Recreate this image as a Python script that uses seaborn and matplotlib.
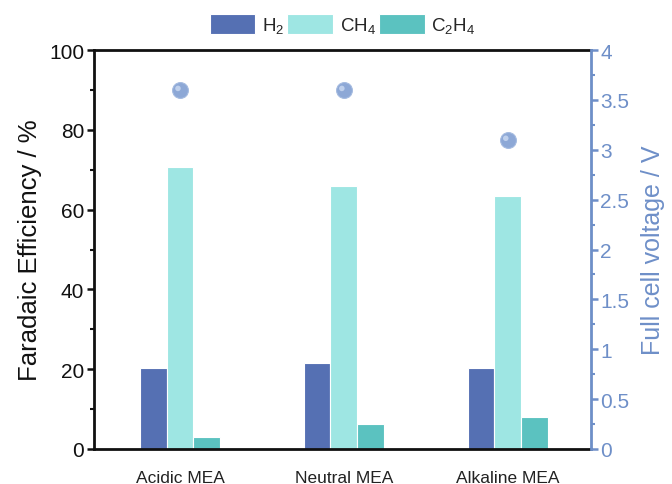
import matplotlib
matplotlib.use("Agg")
import matplotlib.pyplot as plt
import matplotlib.transforms as mtransforms
import seaborn as sns
import pandas as pd
from matplotlib.ticker import MultipleLocator

categories = ["Acidic MEA", "Neutral MEA", "Alkaline MEA"]
products = ["H$_2$", "CH$_4$", "C$_2$H$_4$"]
fe_h2 = [20.2, 21.6, 20.2]
fe_ch4 = [70.8, 65.8, 63.5]
fe_c2h4 = [3.1, 6.2, 8.1]
voltage = [3.6, 3.6, 3.1]

colors = ["#5570B3", "#9EE6E3", "#5BC2C0"]
axis_blue = "#6E8FC8"

sns.set_theme(style="white")
plt.rcParams["font.family"] = ["Liberation Sans", "DejaVu Sans"]
plt.rcParams["mathtext.default"] = "regular"

rows = []
for prod, vals in zip(products, [fe_h2, fe_ch4, fe_c2h4]):
    for c, v in zip(categories, vals):
        rows.append({"cat": c, "product": prod, "fe": v})
df = pd.DataFrame(rows)
dv = pd.DataFrame({"cat": categories, "v": voltage})

fig = plt.figure(figsize=(6.72, 4.85), dpi=100)
ax = fig.add_axes([0.140, 0.0722, 0.739, 0.8226])
sns.barplot(data=df, x="cat", y="fe", hue="product", order=categories,
            hue_order=products, palette=colors, width=0.49, ax=ax,
            edgecolor="white", linewidth=0.8, saturation=1, errorbar=None)
ax.set_xlim(-0.524, 2.506)
ax.set_ylim(0, 100)
ax.set_xlabel("")
ax.set_ylabel("Faradaic Efficiency / %", fontsize=18.5, color="#111111", labelpad=5)
ax.yaxis.set_major_locator(MultipleLocator(20))
ax.yaxis.set_minor_locator(MultipleLocator(10))
ax.tick_params(axis="y", which="major", direction="out", length=5, width=1.8,
               labelsize=15, left=True, colors="#111111", pad=2)
ax.tick_params(axis="y", which="minor", direction="out", length=3, width=1.5, left=True, color="#111111")
ax.tick_params(axis="x", length=0, labelsize=12.5, pad=15, labelcolor="#222222")
for s in ["left", "top", "bottom"]:
    ax.spines[s].set_color("#111111")
    ax.spines[s].set_linewidth(2)
ax.spines["right"].set_visible(False)

leg = ax.legend(loc="lower center", bbox_to_anchor=(0.5, 1.0), ncol=3, frameon=False,
                fontsize=13.5, handlelength=2.45, handleheight=1.3, handletextpad=0.35,
                columnspacing=0.15, borderaxespad=0.4)

ax2 = ax.twinx()
sns.scatterplot(data=dv, x="cat", y="v", ax=ax2, s=130, color="#8DA8D6",
                edgecolor="#A5BBE0", linewidth=0.8, legend=False, zorder=3)
sns.scatterplot(data=dv, x="cat", y="v", ax=ax2, s=16, color="#BFD0EC",
                edgecolor="none", legend=False, zorder=4)
hl = ax2.collections[-1]
hl.set_offset_transform(hl.get_offset_transform() +
                        mtransforms.ScaledTranslation(-2 / 100, 1.5 / 100, fig.dpi_scale_trans))
ax2.set_xlim(-0.524, 2.506)
ax2.set_ylim(0, 4)
ax2.set_ylabel("Full cell voltage / V", fontsize=18, color=axis_blue, labelpad=8)
ax2.yaxis.set_minor_locator(MultipleLocator(0.25))
ax2.set_yticks([0, 0.5, 1, 1.5, 2, 2.5, 3, 3.5, 4])
ax2.set_yticklabels(["0", "0.5", "1", "1.5", "2", "2.5", "3", "3.5", "4"])
ax2.tick_params(axis="y", which="major", direction="out", length=5, width=1.8,
                labelsize=15, right=True, colors=axis_blue, pad=2)
ax2.tick_params(axis="y", which="minor", direction="out", length=3, width=1.5, right=True, color=axis_blue)
for s in ["left", "top", "bottom"]:
    ax2.spines[s].set_visible(False)
ax2.spines["right"].set_color(axis_blue)
ax2.spines["right"].set_linewidth(2)
ax2.set_xlabel("")

fig.savefig("out.png", dpi=100)
